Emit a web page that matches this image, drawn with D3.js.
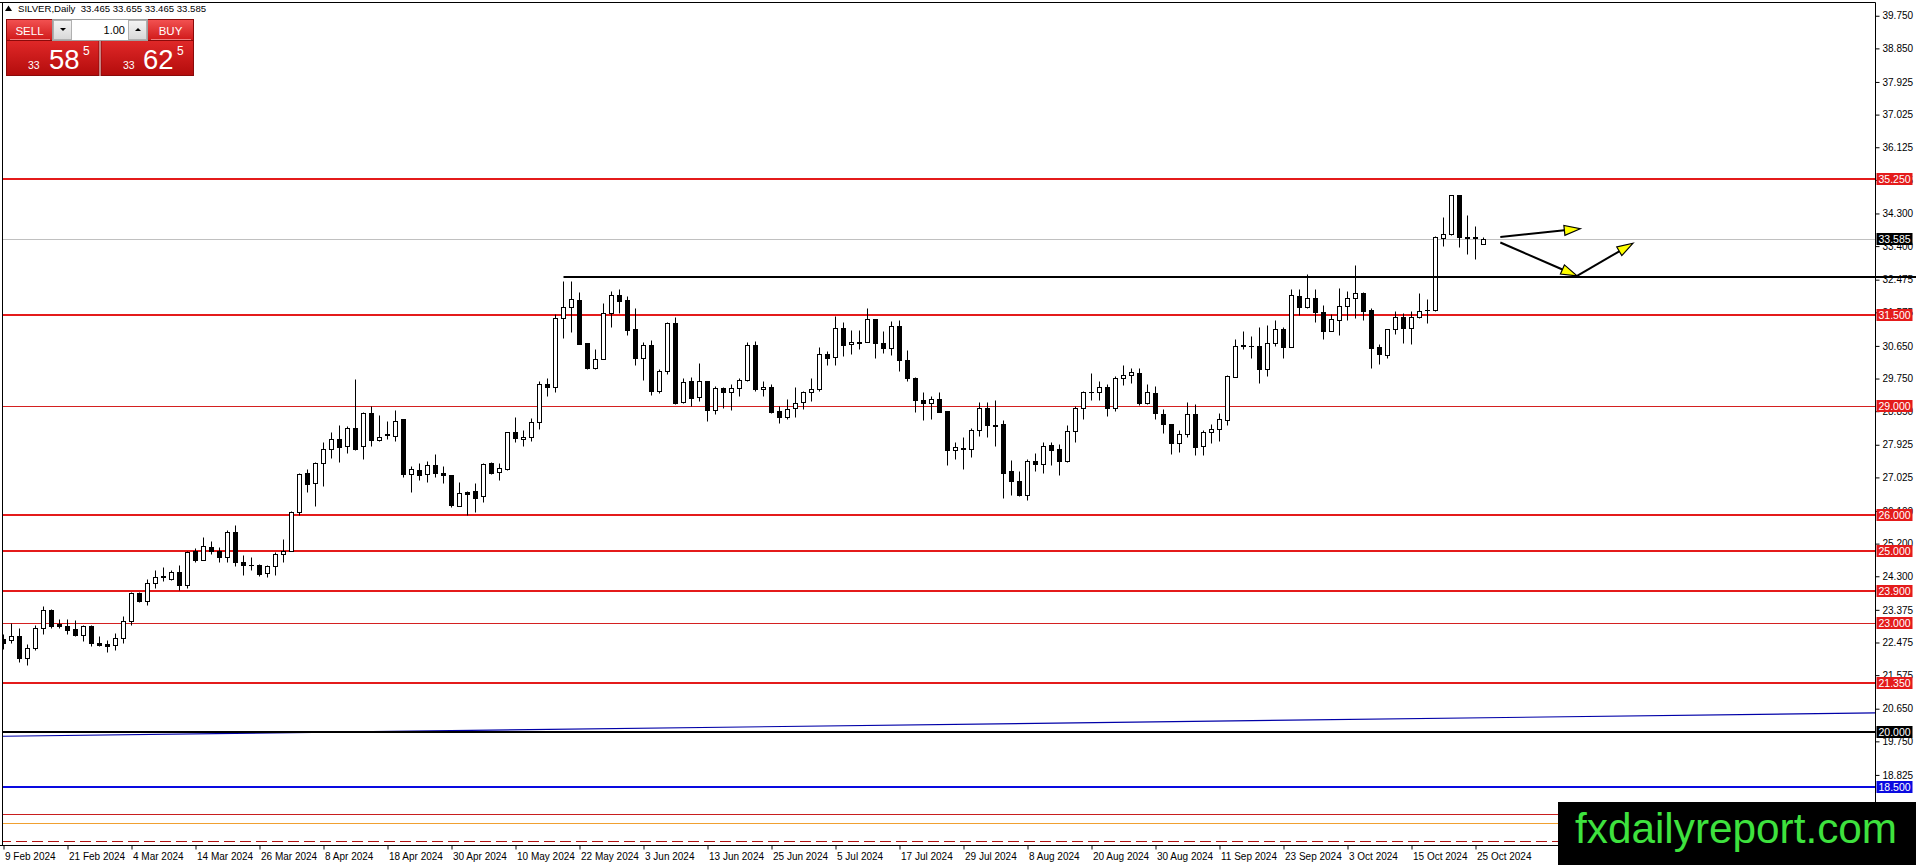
<!DOCTYPE html>
<html lang="en">
<head>
<meta charset="UTF-8">
<title>SILVER Daily</title>
<script src="https://d3js.org/d3.v7.min.js"></script>
<style>
  body { margin: 0; background: #fff; }
  svg { display: block; font-family: "Liberation Sans", Arial, sans-serif; }
</style>
</head>
<body>
<script>
// daily candles, 9 Feb 2024 .. 28 Oct 2024
const opens = [22.58,22.55,22.65,22.05,22.32,22.87,23.38,22.98,22.94,22.86,22.68,22.92,22.47,22.42,22.40,22.60,23.06,23.84,23.61,24.11,
  24.28,24.23,24.41,24.05,24.99,24.74,25.11,24.99,24.83,25.52,24.70,24.60,24.61,24.39,24.57,24.92,25.01,26.06,27.14,26.87,
  27.42,27.80,28.08,27.88,28.38,27.88,28.80,28.05,28.20,28.17,28.64,27.12,27.23,27.12,27.37,27.16,27.10,26.24,26.63,26.64,
  26.50,27.42,27.17,27.26,28.27,28.08,28.13,28.55,29.59,29.51,31.43,31.73,31.92,30.72,30.05,30.28,31.57,32.05,31.92,31.12,
  30.33,30.67,29.42,29.95,31.27,29.09,29.69,29.23,29.69,28.89,29.50,29.39,29.48,29.71,30.68,29.45,29.51,28.86,28.70,28.93,
  29.09,29.37,29.46,30.42,30.34,31.14,30.70,30.77,30.75,31.38,30.74,30.60,31.20,30.25,29.76,29.16,29.07,29.18,28.86,27.77,
  27.83,27.81,28.32,28.93,28.48,28.49,27.19,26.93,26.53,27.48,27.39,27.92,27.80,27.49,28.31,28.95,29.38,29.38,29.53,28.93,
  29.76,29.84,29.90,29.07,29.35,28.78,28.49,27.97,28.22,28.77,27.88,28.29,28.36,28.61,29.80,30.66,30.66,30.65,30.01,30.72,
  31.11,30.63,32.03,31.73,31.96,31.58,31.07,31.37,31.76,31.96,32.10,31.64,30.61,30.40,31.11,31.44,31.14,31.44,31.64,31.63,
  33.62,33.73,34.81,33.64,33.65,33.465];
const highs = [22.70,23.01,22.87,22.42,22.97,23.47,23.40,23.12,23.12,23.09,22.96,22.95,22.66,22.53,22.74,23.21,23.88,23.88,24.22,24.46,
  24.55,24.48,24.62,25.01,25.08,25.38,25.28,25.11,25.58,25.72,24.89,24.83,24.65,24.62,24.96,25.33,26.09,27.15,27.26,27.44,
  27.99,28.27,28.47,28.45,29.74,28.82,28.98,28.75,28.59,28.89,28.64,27.33,27.42,27.49,27.68,27.35,27.10,26.90,26.65,26.87,
  27.42,27.46,27.42,28.27,28.70,28.34,28.66,29.69,29.76,31.52,32.44,32.44,32.14,30.72,30.57,31.83,32.15,32.21,32.03,31.69,
  30.77,30.80,30.01,31.30,31.46,29.76,29.79,30.17,29.69,29.55,29.53,29.60,29.76,30.75,30.79,29.69,29.60,29.00,29.19,29.53,
  29.42,29.76,30.61,30.51,31.48,31.30,31.09,31.09,31.69,31.38,31.05,31.34,31.37,30.54,29.79,29.38,29.26,29.38,28.86,28.00,
  28.14,28.38,29.10,29.10,29.16,28.61,27.51,27.21,27.53,27.69,27.99,28.00,27.94,28.48,29.00,29.42,29.90,29.69,29.60,29.81,
  30.13,30.04,30.04,29.60,29.55,28.91,28.49,28.32,29.10,29.04,28.32,28.49,28.80,29.85,30.83,31.05,30.93,31.16,31.23,31.37,
  31.16,32.22,32.21,32.62,32.21,31.78,31.52,32.24,32.15,32.88,32.13,31.69,30.70,31.11,31.60,31.57,31.61,32.12,31.94,33.69,
  34.19,34.81,34.81,34.26,33.96,33.655];
const lows = [22.30,22.46,21.93,21.86,22.28,22.72,22.87,22.87,22.72,22.65,22.51,22.37,22.37,22.20,22.26,22.46,22.95,23.59,23.50,23.98,
  24.16,24.19,23.93,23.99,24.68,24.74,24.92,24.68,24.68,24.57,24.34,24.48,24.30,24.28,24.33,24.68,25.01,25.98,26.61,26.23,
  26.79,27.55,27.46,27.69,27.78,27.53,27.90,28.04,28.08,28.02,27.05,26.61,26.96,26.91,27.03,26.87,26.20,26.23,26.00,26.06,
  26.36,27.12,26.94,27.22,27.99,27.90,28.04,28.36,29.27,29.39,30.88,31.02,30.70,30.01,30.01,30.28,31.18,31.55,30.94,30.13,
  29.71,29.30,29.35,29.88,29.05,29.07,28.99,29.12,28.59,28.76,28.95,28.87,29.27,29.68,29.42,29.27,28.80,28.52,28.63,28.70,
  28.91,29.14,29.42,30.13,30.13,30.37,30.43,30.57,30.75,30.33,30.45,30.40,29.97,29.67,28.82,28.61,28.63,28.82,27.36,27.53,
  27.26,27.59,28.18,28.15,27.88,26.46,26.53,26.50,26.39,27.19,27.16,27.37,27.10,27.45,27.99,28.64,29.16,29.15,28.73,28.86,
  29.58,29.64,29.01,29.04,28.63,28.26,27.67,27.72,28.15,27.63,27.65,27.97,28.02,28.47,29.78,30.56,30.31,29.64,29.83,30.65,
  30.31,30.61,31.50,31.69,31.30,30.84,31.05,30.94,31.35,31.43,31.35,30.05,30.16,30.31,30.98,30.72,30.70,31.41,31.27,31.60,
  33.39,33.71,33.37,33.17,33.04,33.465];
const closes = [22.45,22.65,22.05,22.32,22.87,23.38,22.92,22.92,22.81,22.67,22.92,22.46,22.40,22.39,22.60,23.07,23.84,23.61,24.11,24.28,
  24.30,24.42,24.05,24.97,24.74,25.13,24.99,24.83,25.52,24.68,24.61,24.60,24.37,24.57,24.92,24.99,26.07,27.13,26.84,27.42,
  27.81,28.08,27.85,28.38,27.80,28.80,28.05,28.15,28.23,28.59,27.12,27.25,27.09,27.37,27.14,27.10,26.26,26.59,26.58,26.47,
  27.39,27.16,27.28,28.27,28.11,28.13,28.55,29.59,29.51,31.43,31.73,31.94,30.71,30.05,30.28,31.57,32.06,31.90,31.09,30.33,
  30.67,29.42,29.96,31.27,29.07,29.65,29.21,29.69,28.89,29.48,29.39,29.48,29.71,30.68,29.47,29.53,28.84,28.70,28.90,29.07,
  29.37,29.47,30.42,30.33,31.15,30.68,30.76,30.72,31.38,30.72,30.60,31.20,30.25,29.76,29.15,29.07,29.18,28.84,27.77,27.86,
  27.82,28.34,28.93,28.46,28.45,27.16,26.92,26.53,27.48,27.39,27.88,27.77,27.49,28.31,28.93,29.38,29.37,29.53,28.93,29.76,
  29.84,29.92,29.07,29.38,28.80,28.49,27.97,28.22,28.77,27.86,28.29,28.36,28.63,29.82,30.65,30.67,30.65,30.01,30.72,31.11,
  30.63,32.06,31.73,31.96,31.58,31.07,31.38,31.76,31.96,32.10,31.62,30.60,30.42,31.11,31.46,31.14,31.44,31.60,31.65,33.66,
  33.73,34.81,33.64,33.63,33.62,33.585];

const dateIdx = [0,8,16,24,32,40,48,56,64,72,80,88,96,104,112,120,128,136,144,152,160,168,176,184];
const dateLabels = ["9 Feb 2024","21 Feb 2024","4 Mar 2024","14 Mar 2024","26 Mar 2024","8 Apr 2024","18 Apr 2024","30 Apr 2024",
  "10 May 2024","22 May 2024","3 Jun 2024","13 Jun 2024","25 Jun 2024","5 Jul 2024","17 Jul 2024","29 Jul 2024","8 Aug 2024",
  "20 Aug 2024","30 Aug 2024","11 Sep 2024","23 Sep 2024","3 Oct 2024","15 Oct 2024","25 Oct 2024"];
const priceTicks = [39.75,38.85,37.925,37.025,36.125,35.225,34.3,33.4,32.475,31.575,30.65,29.75,28.85,27.925,27.025,26.1,
  25.2,24.3,23.375,22.475,21.575,20.65,19.75,18.825,17.925,17.025];

// horizontal levels: price, colour, width
const levelPrices = [35.25,31.5,29.0,26.0,25.0,23.9,23.0,21.35,20.0,18.5];
const levelColors = ["#e41b1b","#e41b1b","#d42020","#e41b1b","#e41b1b","#e41b1b","#d42020","#e41b1b","#000000","#0a0ae0"];
const levelWidths = [2,2,1,2,2,2,1,2,2,2];
const lowLevels = [17.75,17.5,17.0];   // unlabeled, under the logo
const lastPrice = 33.585;
const support = {from: 70, price: 32.56};
const trend = [[0,19.89],[234,20.535]];
// arrows: bar1, price1, bar2, price2
const arrows = [[187.1,33.65,197.1,33.88],[187.1,33.50,196.7,32.58],[196.7,32.58,203.7,33.48]];

const W = 1916, H = 865;
const right = 1875.5, bottom = 845.5;

const svg = d3.select("body").append("svg").attr("width", W).attr("height", H);

const defs = svg.append("defs");
defs.append("clipPath").attr("id","plot").append("rect")
  .attr("x",3).attr("y",3).attr("width",right-3).attr("height",bottom-3);
function grad(id, a, b) {
  const g = defs.append("linearGradient").attr("id",id).attr("x1",0).attr("y1",0).attr("x2",0).attr("y2",1);
  g.append("stop").attr("offset","0%").attr("stop-color",a);
  g.append("stop").attr("offset","100%").attr("stop-color",b);
}
grad("btn","#f25252","#d01818");
grad("box","#e02828","#b30c0c");
grad("spin","#f4f4f4","#d8d8d8");

const x = d3.scaleLinear().domain([0, 234]).range([3.5, 3.5 + 8*234]);
const y = d3.scaleLinear().domain([18.5, 35.25]).range([786.7, 179]);
const py = v => Math.round(y(v)) + 0.5;

const plot = svg.append("g").attr("clip-path","url(#plot)");

// trend line
plot.append("line")
  .attr("x1", x(trend[0][0]) - 4).attr("y1", y(trend[0][1]))
  .attr("x2", x(trend[1][0])).attr("y2", y(trend[1][1]))
  .attr("stroke","#0000a8").attr("stroke-width",1.2);

// low levels
plot.append("line").attr("x1",0).attr("x2",right).attr("y1",py(lowLevels[0])).attr("y2",py(lowLevels[0]))
  .attr("stroke","#c81e1e");
plot.append("line").attr("x1",0).attr("x2",right).attr("y1",py(lowLevels[1])).attr("y2",py(lowLevels[1]))
  .attr("stroke","#f0a030");
plot.append("line").attr("x1",0).attr("x2",right).attr("y1",py(lowLevels[2])).attr("y2",py(lowLevels[2]))
  .attr("stroke","#b01010").attr("stroke-dasharray","11,5");

// current price line
plot.append("line").attr("x1",0).attr("x2",right).attr("y1",py(lastPrice)).attr("y2",py(lastPrice))
  .attr("stroke","#c0c0c0");

// levels
plot.selectAll("line.level").data(levelPrices).join("line").attr("class","level")
  .attr("x1",0).attr("x2",right)
  .attr("y1",(d,i) => levelWidths[i] == 2 ? Math.round(y(d)) : py(d))
  .attr("y2",(d,i) => levelWidths[i] == 2 ? Math.round(y(d)) : py(d))
  .attr("stroke",(d,i) => levelColors[i]).attr("stroke-width",(d,i) => levelWidths[i]);

// candles
const bars = d3.range(closes.length);
plot.selectAll("line.wick").data(bars).join("line").attr("class","wick")
  .attr("x1", i => x(i)).attr("x2", i => x(i))
  .attr("y1", i => py(highs[i])).attr("y2", i => py(lows[i]))
  .attr("stroke","#000");
plot.selectAll("rect.body").data(bars).join("rect").attr("class","body")
  .attr("x", i => x(i) - 2).attr("width", 4)
  .attr("y", i => py(Math.max(opens[i], closes[i])))
  .attr("height", i => Math.max(py(Math.min(opens[i], closes[i])) - py(Math.max(opens[i], closes[i])), 0.01))
  .attr("fill", i => closes[i] >= opens[i] ? "#fff" : "#000")
  .attr("stroke","#000");

// support line (runs across the price scale)
svg.append("line").attr("x1", x(support.from)).attr("x2", W)
  .attr("y1", Math.round(y(support.price))).attr("y2", Math.round(y(support.price)))
  .attr("stroke","#000").attr("stroke-width",2);

// arrows
arrows.forEach(a => {
  const x1 = x(a[0]), y1 = y(a[1]), x2 = x(a[2]), y2 = y(a[3]);
  const ang = Math.atan2(y2 - y1, x2 - x1), len = 16, hw = 5;
  const bx = x2 - len*Math.cos(ang), by = y2 - len*Math.sin(ang);
  svg.append("line").attr("x1",x1).attr("y1",y1).attr("x2",bx).attr("y2",by)
    .attr("stroke","#000").attr("stroke-width",2);
  const pts = [[x2,y2],[bx - hw*Math.sin(ang), by + hw*Math.cos(ang)],[bx + hw*Math.sin(ang), by - hw*Math.cos(ang)]];
  svg.append("polygon").attr("points", pts.map(p => p.join(",")).join(" "))
    .attr("fill","#ffff00").attr("stroke","#000").attr("stroke-width",1.2);
});

// frame
svg.append("path").attr("d",`M0,2.5H${right}V${bottom}H0M2.5,2.5V${bottom}`)
  .attr("fill","none").attr("stroke","#000");

// price axis
const yAxis = d3.axisRight(y).tickValues(priceTicks).tickFormat(d3.format(".3f")).tickSize(4).tickPadding(3);
svg.append("g").attr("transform",`translate(${right},0)`).call(yAxis)
  .call(g => g.select(".domain").remove())
  .call(g => g.selectAll("text").attr("font-family","Liberation Sans, Arial, sans-serif").attr("font-size",10));

// time axis
const xAxis = d3.axisBottom(x).tickValues(dateIdx).tickFormat((d,i) => dateLabels[i]).tickSize(4).tickPadding(3);
svg.append("g").attr("transform",`translate(0,${bottom})`).call(xAxis)
  .call(g => g.select(".domain").remove())
  .call(g => g.selectAll("text").attr("text-anchor","start").attr("x",1)
    .attr("font-family","Liberation Sans, Arial, sans-serif").attr("font-size",10));

// level tags on the scale
const tags = svg.append("g");
function tag(v, bg) {
  const yy = Math.round(y(v));
  tags.append("rect").attr("x", right + 1).attr("y", yy - 6).attr("width", 36).attr("height", 12).attr("fill", bg);
  tags.append("text").attr("x", right + 3).attr("y", yy + 4).attr("fill","#fff").attr("font-size",10.5)
    .text(d3.format(".3f")(v));
}
levelPrices.forEach((v,i) => tag(v, levelColors[i] == "#d42020" ? "#e41b1b" : levelColors[i]));
tag(lastPrice, "#000");

// header
svg.append("path").attr("d","M5,11L8.5,5.5L12,11Z").attr("fill","#000");
svg.append("text").attr("x",18).attr("y",12).attr("font-size",9.6).style("white-space","pre")
  .text("SILVER,Daily  33.465 33.655 33.465 33.585");

// one-click trading panel
const panel = svg.append("g");
panel.append("rect").attr("x",6.5).attr("y",40.5).attr("width",92.5).attr("height",35).attr("fill","url(#box)").attr("stroke","#8a0a0a");
panel.append("rect").attr("x",101).attr("y",40.5).attr("width",92.5).attr("height",35).attr("fill","url(#box)").attr("stroke","#8a0a0a");
panel.append("rect").attr("x",6.5).attr("y",19.5).attr("width",46).attr("height",21).attr("fill","url(#btn)").attr("stroke","#8a0a0a");
panel.append("rect").attr("x",147.5).attr("y",19.5).attr("width",46).attr("height",21).attr("fill","url(#btn)").attr("stroke","#8a0a0a");
panel.append("line").attr("x1",10).attr("x2",50).attr("y1",39.5).attr("y2",39.5).attr("stroke","#f08080");
panel.append("line").attr("x1",151).attr("x2",191).attr("y1",39.5).attr("y2",39.5).attr("stroke","#f08080");
panel.append("rect").attr("x",52.5).attr("y",19.5).attr("width",95).attr("height",21).attr("fill","#fff").attr("stroke","#a0a0a0");
panel.append("rect").attr("x",53.5).attr("y",20.5).attr("width",18).attr("height",19).attr("fill","url(#spin)").attr("stroke","#b0b0b0");
panel.append("rect").attr("x",128.5).attr("y",20.5).attr("width",18).attr("height",19).attr("fill","url(#spin)").attr("stroke","#b0b0b0");
panel.append("path").attr("d","M60,28H66L63,31Z").attr("fill","#000");
panel.append("path").attr("d","M135,31H141L138,28Z").attr("fill","#000");
panel.append("text").attr("x",125).attr("y",34).attr("text-anchor","end").attr("font-size",11).text("1.00");
panel.append("text").attr("x",29.5).attr("y",35).attr("text-anchor","middle").attr("fill","#fff").attr("font-size",11.5).text("SELL");
panel.append("text").attr("x",170.5).attr("y",35).attr("text-anchor","middle").attr("fill","#fff").attr("font-size",11.5).text("BUY");
[[28,49,83,"58"],[123,143,177,"62"]].forEach(p => {
  panel.append("text").attr("x",p[0]).attr("y",69).attr("fill","#fff").attr("font-size",10.5).text("33");
  panel.append("text").attr("x",p[1]).attr("y",69).attr("fill","#fff").attr("font-size",27.5).text(p[3]);
  panel.append("text").attr("x",p[2]).attr("y",55).attr("fill","#fff").attr("font-size",12).text("5");
});

// logo
svg.append("rect").attr("x",1558).attr("y",802).attr("width",W-1558).attr("height",H-802).attr("fill","#000");
svg.append("text").attr("x",1575).attr("y",843).attr("fill","#3ee23e").attr("font-size",42.3).text("fxdailyreport.com");
</script>
</body>
</html>
